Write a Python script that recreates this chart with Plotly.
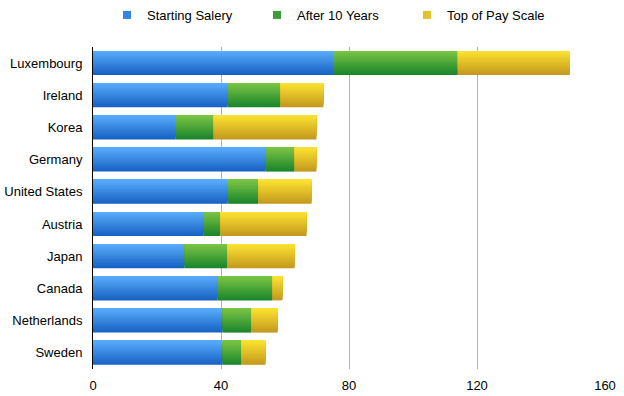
import plotly.graph_objects as go

countries = ["Luxembourg", "Ireland", "Korea", "Germany", "United States",
             "Austria", "Japan", "Canada", "Netherlands", "Sweden"]
starting = [75, 42, 25.7, 53.9, 42, 34.5, 28.6, 38.9, 40.5, 40.5]
after10 = [39, 16.6, 12, 9.1, 9.7, 5.3, 13.4, 17.2, 9, 5.9]
top_scale = [35, 13.4, 32.1, 6.8, 16.6, 26.9, 21, 3.1, 8.2, 7.5]

series_names = ["Starting Salery", "After 10 Years", "Top of Pay Scale"]
series_vals = [starting, after10, top_scale]
legend_colors = ["#2f86e6", "#3e9e36", "#e2c22a"]
grad_top = [(86, 170, 250), (120, 194, 68), (250, 224, 48)]
grad_bot = [(24, 98, 196), (28, 134, 44), (196, 154, 30)]

N = 14
BW = 0.74

fig = go.Figure()
base = [0.0] * len(countries)
for si, (name, vals) in enumerate(zip(series_names, series_vals)):
    # layered gradient: largest (bottom colour) first, shrinking toward top colour
    for k in range(N):
        t = 1 - k / (N - 1)
        c = tuple(round(grad_top[si][j] + (grad_bot[si][j] - grad_top[si][j]) * t) for j in range(3))
        col = "rgb(%d,%d,%d)" % c
        w = BW * (N - k) / N
        fig.add_trace(go.Bar(
            y=countries, x=vals, base=base, orientation="h",
            width=w, offset=-BW / 2,
            marker=dict(color=col, line=dict(width=0)),
            name=name, legendgroup=name, showlegend=False,
            hoverinfo="skip",
        ))
    base = [b + v for b, v in zip(base, vals)]

for name, col in zip(series_names, legend_colors):
    fig.add_trace(go.Scatter(
        x=[None], y=[None], mode="markers", name=name, legendgroup=name,
        marker=dict(symbol="square", size=8, color=col),
    ))

fig.update_layout(
    template="none",
    width=624, height=396,
    barmode="overlay",
    plot_bgcolor="white", paper_bgcolor="white",
    margin=dict(l=93, r=19, t=47, b=27, autoexpand=False),
    font=dict(family="Liberation Sans, Arial, sans-serif", size=13, color="#000"),
    legend=dict(orientation="h", x=107 / 624, y=1.0, xref="container", yref="container",
                yanchor="top", xanchor="left",
                entrywidth=105, entrywidthmode="pixels", itemwidth=30,
                font=dict(size=13), traceorder="normal", bgcolor="rgba(0,0,0,0)"),
    xaxis=dict(range=[0, 160], tickvals=[0, 40, 80, 120, 160], showgrid=True,
               gridcolor="#b3b3b3", gridwidth=1, zeroline=False, showline=False,
               ticks="", automargin=False, ticklabelstandoff=7),
    yaxis=dict(autorange="reversed", showline=True, linecolor="black", linewidth=1,
               ticks="", showgrid=False, ticklabelstandoff=7, automargin=False),
)

fig.write_html("out.html", config={"displayModeBar": False},
               post_script="document.body.style.margin='0';")
